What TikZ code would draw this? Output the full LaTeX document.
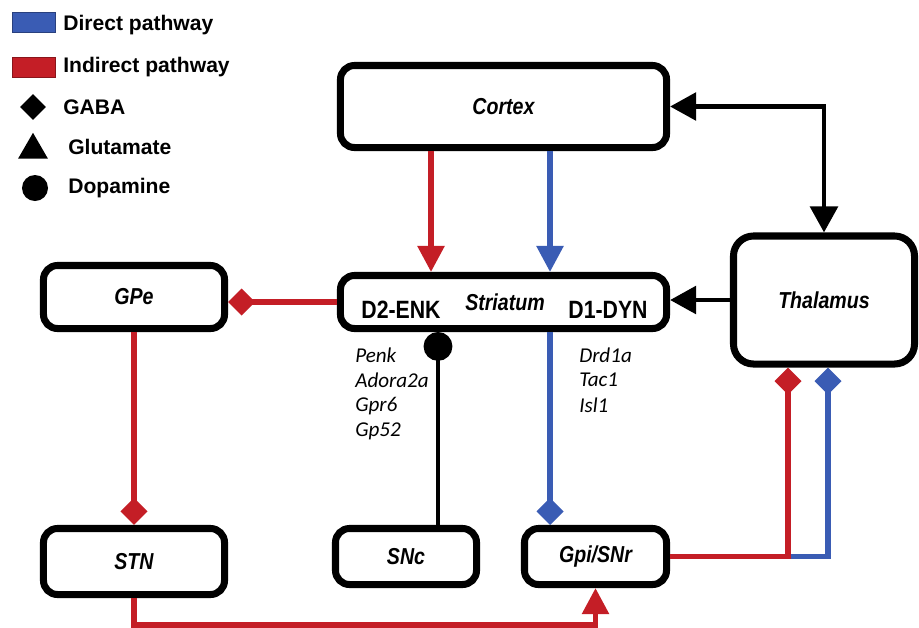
\documentclass[tikz,border=0pt]{standalone}
\usepackage{fontspec}
\setmainfont{Liberation Sans}
\newfontfamily\boxfont[FakeStretch=0.85]{Liberation Sans}
\newfontfamily\genefont{Carlito}
\usetikzlibrary{arrows.meta,shapes.geometric}
\definecolor{dirblue}{RGB}{58,92,180}
\definecolor{indred}{RGB}{196,30,38}
\tikzset{
  region/.style={draw, line width=5pt, rounded corners=0.35cm, fill=white, inner sep=0pt,
    font=\boxfont\bfseries\itshape\fontsize{16.4}{18}\selectfont},
  cell/.style={inner sep=0pt, font=\boxfont\bfseries\fontsize{17.8}{19}\selectfont},
  gene/.style={anchor=west, inner sep=0pt, font=\genefont\itshape\fontsize{15}{17}\selectfont},
  keytext/.style={anchor=west, inner sep=0pt, font=\bfseries\fontsize{15}{17}\selectfont},
  redway/.style={indred, line width=3.9pt},
  blueway/.style={dirblue, line width=3.9pt},
  relay/.style={line width=3.5pt},
  gaba/.style={-{Diamond[length=0.675cm,width=0.675cm]}},
  glut/.style={-{Triangle[length=0.65cm,width=0.65cm]}},
  dopa/.style={-{Circle[length=0.72cm]}},
}
\newcommand\tip{Triangle[length=0.65cm,width=0.68cm]}

\begin{document}
\begin{tikzpicture}[x=0.025cm, y=-0.025cm]
\useasboundingbox (0,0) rectangle (919,627);
% key
\node[draw=dirblue!70!black, fill=dirblue, minimum width=1.075cm, minimum height=0.5cm] (kdir) at (33.5,22) {};
\node[draw=indred!70!black, fill=indred, minimum width=1.075cm, minimum height=0.5cm] (kind) at (33.5,67) {};
\node[diamond, fill=black, inner sep=0pt, minimum size=0.65cm] (kgaba) at (33,107) {};
\node[regular polygon, regular polygon sides=3, fill=black, inner sep=0pt, minimum size=0.86cm] (kglut) at (33,150) {};
\node[circle, fill=black, inner sep=0pt, minimum size=0.65cm] (kdopa) at (35,188) {};
\node[keytext] at (63,25) {Direct pathway};
\node[keytext] at (63,67) {Indirect pathway};
\node[keytext] at (63,107) {GABA};
\node[keytext] at (68,147) {Glutamate};
\node[keytext] at (68,188) {Dopamine};
% regions
\node[region, minimum width=8.15cm, minimum height=2.05cm] (cortex) at (503.5,106.5) {Cortex};
\node[region, minimum width=8.15cm, minimum height=1.325cm] (striatum) at (503.5,302) {};
\node[region, minimum width=4.525cm, minimum height=3.2cm, rounded corners=0.5cm] (thalamus) at (824,300) {Thalamus};
\node[region, minimum width=4.525cm, minimum height=1.575cm] (gpe) at (134,297) {GPe};
\node[region, minimum width=4.525cm, minimum height=1.65cm] (stn) at (134,561.5) {STN};
\node[region, minimum width=3.525cm, minimum height=1.4cm] (snc) at (406,556.5) {SNc};
\node[region, minimum width=3.55cm, minimum height=1.4cm] (gpi) at (595.5,556.5) {Gpi/SNr};
\node[cell] (d2) at (401,310) {D2-ENK};
\node[region, draw=none, fill=none] (str) at (505,302) {Striatum};
\node[cell] (d1) at (608,310) {D1-DYN};
\foreach \g [count=\i] in {Penk,Adora2a,Gpr6,Gp52}
  \node[gene] (d2g\i) at (355,329.5+25.5*\i) {\g};
\foreach \g [count=\i] in {Drd1a,Tac1,Isl1}
  \node[gene] (d1g\i) at (579,330+25*\i) {\g};
% taps
\coordinate (xind) at (431,0);
\coordinate (xdir) at (550,0);
\coordinate (xdopa) at (438,0);
\coordinate (xthr) at (788,0);
\coordinate (xthb) at (828,0);
% pathways
\draw[relay, {\tip}-{\tip}] (cortex.east) -| (thalamus.north);
\draw[relay, -{\tip}] (thalamus.west) -- (thalamus.west -| striatum.east);
\draw[redway, glut] (cortex.south -| xind) -- (striatum.north -| xind);
\draw[blueway, glut] (cortex.south -| xdir) -- (striatum.north -| xdir);
\draw[redway, gaba] (striatum.west) -- (striatum.west -| gpe.east);
\draw[redway, gaba] (gpe.south) -- (stn.north);
\draw[redway, glut] (stn.south) -- ++(0,27) -| (gpi.south);
\draw[relay, dopa] (snc.north -| xdopa) -- (striatum.south -| xdopa);
\draw[blueway, gaba] (striatum.south -| xdir) -- (gpi.north -| xdir);
\draw[blueway, gaba] (gpi.east) -| (thalamus.south -| xthb);
\draw[redway, gaba] (gpi.east) -| (thalamus.south -| xthr);
\end{tikzpicture}
\end{document}
